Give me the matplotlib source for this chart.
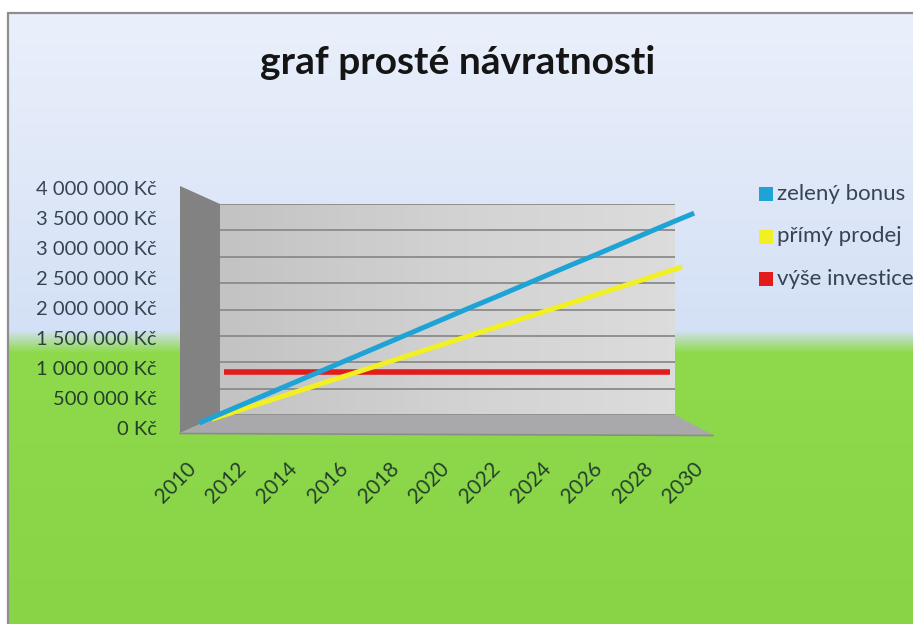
import numpy as np
import matplotlib
matplotlib.use("Agg")
import matplotlib.pyplot as plt
from matplotlib.patches import Polygon, Rectangle

# ---------------- data ----------------
years = [2010, 2011, 2012, 2013, 2014, 2015, 2016, 2017, 2018, 2019, 2020,
         2021, 2022, 2023, 2024, 2025, 2026, 2027, 2028, 2029, 2030]
zeleny_bonus = [115000, 290000, 465000, 640000, 815000, 990000, 1165000,
                1340000, 1515000, 1690000, 1865000, 2040000, 2210000, 2385000,
                2560000, 2735000, 2905000, 3080000, 3255000, 3430000, 3600000]
primy_prodej = [85000, 218000, 351000, 484000, 617000, 750000, 883000,
                1016000, 1149000, 1282000, 1415000, 1548000, 1681000, 1814000,
                1947000, 2080000, 2213000, 2346000, 2479000, 2612000, 2745000]
vyse_investice = [850000] * 21
series_names = ["zelený bonus", "přímý prodej", "výše investice"]
y_ticks = [0, 500000, 1000000, 1500000, 2000000, 2500000, 3000000, 3500000, 4000000]
y_tick_labels = ["0 Kč", "500 000 Kč", "1 000 000 Kč", "1 500 000 Kč", "2 000 000 Kč",
                 "2 500 000 Kč", "3 000 000 Kč", "3 500 000 Kč", "4 000 000 Kč"]
x_tick_labels = ["2010", "2012", "2014", "2016", "2018", "2020",
                 "2022", "2024", "2026", "2028", "2030"]
title = "graf prosté návratnosti"

# ---------------- style ----------------
W, H = 913, 624
FONT = ["Lato", "DejaVu Sans"]
plt.rcParams["font.family"] = FONT
TXT = (8 / 255, 22 / 255, 36 / 255, 0.78)
COLORS = ["#1da3d6", "#f2ef22", "#e21b1b"]
DEPTH = [0.83, 0.5, 0.17]          # 1 = front of the 3-D box, 0 = back wall
LW = [3.6, 3.6, 4.0]
YMAX = 4000000

fig = plt.figure(figsize=(W / 100, H / 100), dpi=100, facecolor="white")


def ax_px(left, top, right, bottom, z):
    a = fig.add_axes([left / W, 1 - bottom / H, (right - left) / W, (bottom - top) / H])
    a.set_zorder(z)
    return a


def plane(t):
    return (220 - 40 * t, 204 - 18 * t, 675 + 38 * t, 415 + 18 * t)


# background (sky -> grass)
ax_bg = ax_px(8, 13, W, H, 0)
rows = np.arange(13, H)
stops_y = [13, 200, 330, 352, 624]
cols = np.array([[234, 240, 251], [222, 231, 248], [211, 224, 245],
                 [142, 218, 76], [136, 212, 70]]) / 255.0
grad = np.stack([np.interp(rows, stops_y, cols[:, k]) for k in range(3)], axis=-1)[:, None, :]
ax_bg.imshow(grad, aspect="auto", extent=(0, 1, 0, 1), interpolation="bilinear")
ax_bg.set_axis_off()

# canvas in pixel coords: frame, side wall, floor, legend
ax_c = ax_px(0, 0, W, H, 1)
ax_c.set_xlim(0, W)
ax_c.set_ylim(H, 0)
ax_c.set_axis_off()
ax_c.patch.set_visible(False)
ax_c.plot([8, 8, W], [H, 13, 13], color="#8e8e8e", lw=1.6, solid_joinstyle="miter")
ax_c.add_patch(Polygon([(180, 186), (220, 204), (220, 415), (180, 433)],
                       closed=True, facecolor="#828282", edgecolor="none"))
ax_c.add_patch(Polygon([(220, 415), (675, 415), (713, 435), (180, 433)],
                       closed=True, facecolor="#a9a8aa", edgecolor="none"))
ax_c.plot([180, 713], [433.5, 435.5], color="#8c8c8c", lw=1.2)

# back wall with gridlines
l, t_, r, b = plane(0)
ax_back = ax_px(l, t_, r, b, 2)
ax_back.set_xlim(-0.5, 20.5)
ax_back.set_ylim(0, YMAX)
wall = np.linspace(0, 1, 64)[None, :]
ax_back.imshow(wall, cmap=matplotlib.colors.LinearSegmentedColormap.from_list(
    "w", ["#c3c3c3", "#d2d2d2", "#dcdcdc"]), aspect="auto",
    extent=(-0.5, 20.5, 0, YMAX), zorder=0)
ax_back.set_yticks(y_ticks)
ax_back.set_xticks([])
ax_back.tick_params(length=0, labelleft=False)
ax_back.grid(axis="y", color="#8b8b8b", lw=1.3)
ax_back.set_axisbelow(False)
for s in ax_back.spines.values():
    s.set_visible(False)

# series, each on its own depth plane
x_idx = np.arange(len(years))
series_vals = [zeleny_bonus, primy_prodej, vyse_investice]
for i in [2, 1, 0]:
    l, t_, r, b = plane(DEPTH[i])
    a = ax_px(l, t_, r, b, 3 + (2 - i))
    a.set_xlim(-0.5, 20.5)
    a.set_ylim(0, YMAX)
    a.set_axis_off()
    a.patch.set_visible(False)
    a.plot(x_idx, series_vals[i], color=COLORS[i], lw=LW[i], solid_capstyle="butt",
           clip_on=False)

# axis labels on the front plane
ax_lab = ax_px(180, 188, 713, 428, 7)
ax_lab.set_xlim(-0.5, 20.5)
ax_lab.set_ylim(0, YMAX)
ax_lab.patch.set_visible(False)
for s in ax_lab.spines.values():
    s.set_visible(False)
ax_lab.set_yticks(y_ticks, y_tick_labels)
ax_lab.set_xticks(x_idx[::2], x_tick_labels, rotation=45, ha="right", va="center",
                  rotation_mode="anchor")
ax_lab.tick_params(axis="y", length=0, pad=16.6, labelsize=14.5, labelcolor=TXT)
ax_lab.tick_params(axis="x", length=0, pad=27, labelsize=15, labelcolor=TXT)

# legend
leg_y = [194, 236.5, 279]
for i, name in enumerate(series_names):
    ax_c.add_patch(Rectangle((759, leg_y[i] - 7), 14, 14, facecolor=COLORS[i],
                             edgecolor="none"))
    ax_c.text(777, leg_y[i], name, ha="left", va="center", fontsize=16, color=TXT)

# title
fig.text(458 / W, 1 - 63 / H, title, ha="center", va="center", fontsize=28,
         fontweight="bold", color="#151515")

fig.savefig("out.png", dpi=100, facecolor="white")
